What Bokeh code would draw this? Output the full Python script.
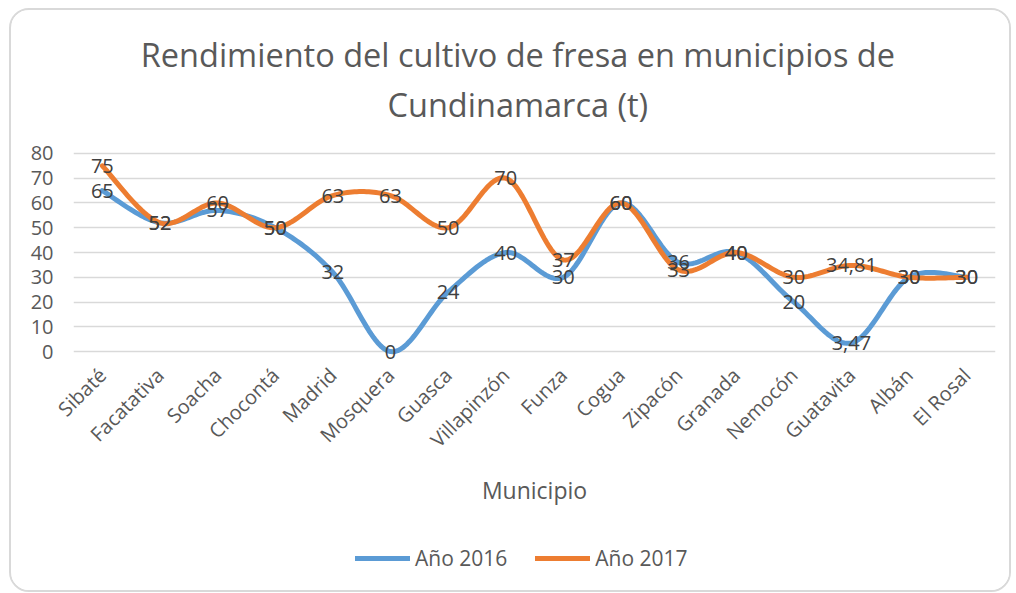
import numpy as np
from math import pi
from bokeh.plotting import figure
from bokeh.layouts import column
from bokeh.core.properties import value
from bokeh.models import (Range1d, FixedTicker, ColumnDataSource, LabelSet, Legend,
                          LegendItem, Label)
from bokeh.embed import file_html
from bokeh.resources import INLINE

title_lines = ["Rendimiento del cultivo de fresa en municipios de", "Cundinamarca (t)"]
municipios = ["Sibaté", "Facatativa", "Soacha", "Chocontá", "Madrid", "Mosquera",
              "Guasca", "Villapinzón", "Funza", "Cogua", "Zipacón", "Granada",
              "Nemocón", "Guatavita", "Albán", "El Rosal"]
anio_2016 = [65, 52, 57, 50, 32, 0, 24, 40, 30, 60, 36, 40, 20, 3.47, 30, 30]
anio_2017 = [75, 52, 60, 50, 63, 63, 50, 70, 37, 60, 33, 40, 30, 34.81, 30, 30]
y_ticks = [0, 10, 20, 30, 40, 50, 60, 70, 80]

FONT = "Open Sans"
BLUE = "#5B9BD5"
ORANGE = "#ED7D31"
GREY = "#595959"


def smooth(xs, ys, n=24):
    """Catmull-Rom style bezier smoothing (like spreadsheet smoothed lines)."""
    xs = np.asarray(xs, float)
    ys = np.asarray(ys, float)
    px, py = [], []
    m = len(xs)
    for i in range(m - 1):
        p0 = (xs[max(i - 1, 0)], ys[max(i - 1, 0)])
        p1 = (xs[i], ys[i])
        p2 = (xs[i + 1], ys[i + 1])
        p3 = (xs[min(i + 2, m - 1)], ys[min(i + 2, m - 1)])
        c1 = (p1[0] + (p2[0] - p0[0]) / 6, p1[1] + (p2[1] - p0[1]) / 6)
        c2 = (p2[0] - (p3[0] - p1[0]) / 6, p2[1] - (p3[1] - p1[1]) / 6)
        t = np.linspace(0, 1, n, endpoint=(i == m - 2))
        a = (1 - t) ** 3
        b = 3 * (1 - t) ** 2 * t
        c = 3 * (1 - t) * t ** 2
        d = t ** 3
        px.extend(a * p1[0] + b * c1[0] + c * c2[0] + d * p2[0])
        py.extend(a * p1[1] + b * c1[1] + c * c2[1] + d * p2[1])
    return px, py


def strip(height):
    f = figure(width=W, height=height, output_backend="svg", toolbar_location=None,
               x_range=Range1d(0, W), y_range=Range1d(height, 0),
               x_axis_location=None, y_axis_location=None, min_border=0)
    f.grid.visible = False
    f.outline_line_color = None
    f.background_fill_color = "white"
    f.border_fill_color = "white"
    return f


W, HT, H1, H2 = 998, 128, 382, 70

# title strip
pt = strip(HT)
for txt, base in zip(title_lines, (44, 94)):
    pt.add_layout(Label(x=481, y=base, text=txt, text_align="center",
                        text_baseline="alphabetic", text_font=FONT,
                        text_font_size="32.5px", text_color=GREY))

# main chart
p = figure(width=W, height=H1, output_backend="svg", toolbar_location=None,
           x_range=Range1d(-0.5, len(municipios) - 0.5), y_range=Range1d(-4, 82),
           min_border_left=62, min_border_right=14, min_border_top=10,
           min_border_bottom=159)
p.outline_line_color = None
p.background_fill_color = "white"
p.border_fill_color = "white"

xs = list(range(len(municipios)))

p.yaxis.ticker = FixedTicker(ticks=y_ticks)
p.yaxis.axis_line_color = None
p.yaxis.major_tick_line_color = None
p.yaxis.minor_tick_line_color = None
p.yaxis.major_label_text_font = FONT
p.yaxis.major_label_text_font_size = "20px"
p.yaxis.major_label_text_color = GREY
p.yaxis.major_label_standoff = 14

p.xaxis.ticker = FixedTicker(ticks=xs)
p.xaxis.major_label_overrides = {i: m for i, m in enumerate(municipios)}
p.xaxis.major_label_orientation = pi / 4
p.xaxis.axis_line_color = None
p.xaxis.major_tick_line_color = None
p.xaxis.minor_tick_line_color = None
p.xaxis.major_label_text_font = FONT
p.xaxis.major_label_text_font_size = "20px"
p.xaxis.major_label_text_color = GREY
p.xaxis.major_label_standoff = 4
p.xaxis.axis_label = "Municipio"
p.xaxis.axis_label_text_font = FONT
p.xaxis.axis_label_text_font_size = "23px"
p.xaxis.axis_label_text_font_style = "normal"
p.xaxis.axis_label_text_color = GREY
p.xaxis.axis_label_standoff = 9

p.xgrid.grid_line_color = None
p.ygrid.grid_line_color = "#d9d9d9"
p.ygrid.grid_line_width = 1.5

sx1, sy1 = smooth(xs, anio_2016)
sx2, sy2 = smooth(xs, anio_2017)
p.line(sx1, sy1, line_color=BLUE, line_width=5, line_cap="round", line_join="round")
p.line(sx2, sy2, line_color=ORANGE, line_width=5, line_cap="round", line_join="round")


def fmt(v):
    return f"{v:g}".replace(".", ",")


for vals in (anio_2016, anio_2017):
    src = ColumnDataSource(dict(x=xs, y=vals, t=[fmt(v) for v in vals]))
    p.add_layout(LabelSet(x="x", y="y", text="t", source=src, text_align="center",
                          text_baseline="middle", text_font=value(FONT),
                          text_font_size="20px", text_color="#404040"))

# legend strip (its lines lie outside the visible range; only the legend shows)
pl = figure(width=W, height=H2, output_backend="svg", toolbar_location=None,
            x_range=Range1d(0, 1), y_range=Range1d(0, 1),
            x_axis_location=None, y_axis_location=None,
            min_border=0)
pl.grid.visible = False
pl.outline_line_color = None
pl.background_fill_color = "white"
pl.border_fill_color = "white"
lr1 = pl.line(x=[5, 6], y=[5, 5], line_color=BLUE, line_width=5, line_cap="round")
lr2 = pl.line(x=[5, 6], y=[5, 5], line_color=ORANGE, line_width=5, line_cap="round")
legend = Legend(items=[LegendItem(label="Año 2016", renderers=[lr1]),
                       LegendItem(label="Año 2017", renderers=[lr2])],
                orientation="horizontal", location=(282, 18),
                label_text_font=FONT, label_text_font_size="21px",
                label_text_color=GREY, glyph_width=55, glyph_height=20,
                label_standoff=5, spacing=28, border_line_color=None,
                background_fill_alpha=0, margin=0, padding=0)
pl.add_layout(legend)

layout = column(pt, p, pl, spacing=0,
                styles={"border": "2px solid #d9d9d9", "border-radius": "20px",
                        "margin-left": "9px", "margin-top": "8px",
                        "overflow": "hidden", "background-color": "white"})

open("out.html", "w").write(file_html(layout, INLINE))
